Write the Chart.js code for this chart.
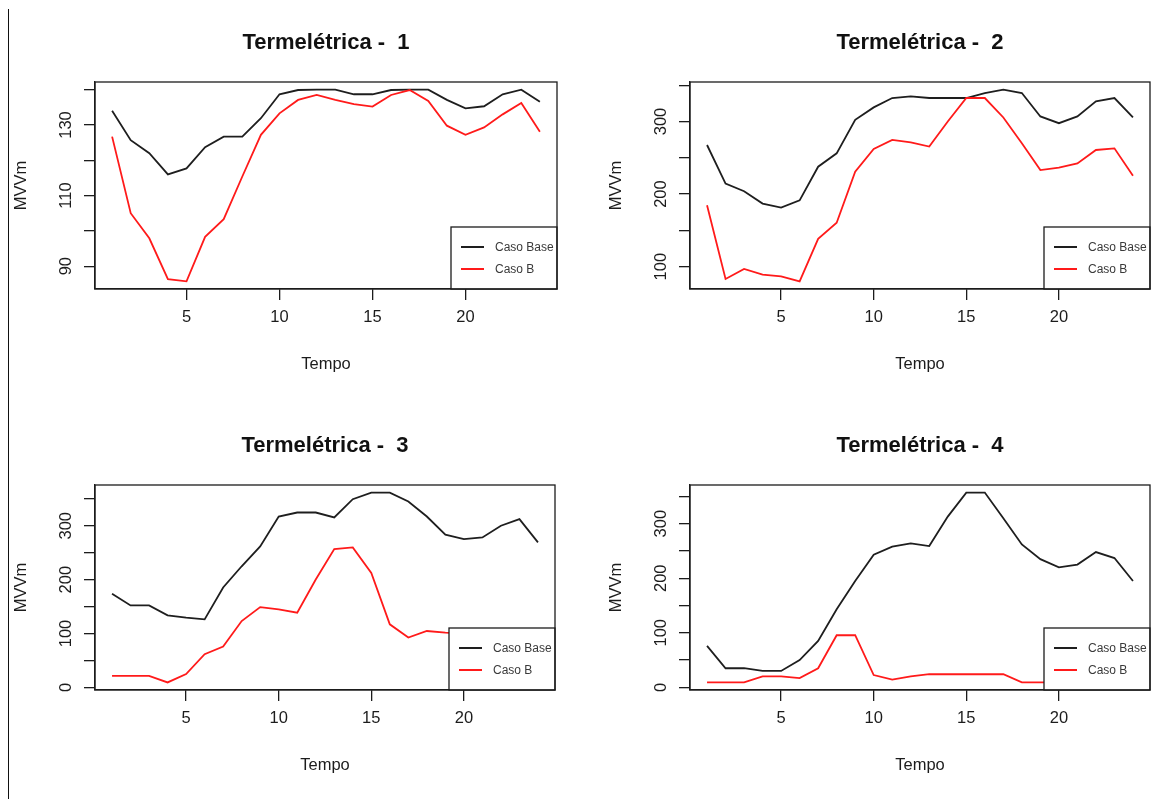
<!DOCTYPE html>
<html>
<head>
<meta charset="utf-8">
<title>Termelétricas - Caso Base x Caso B</title>
<script src="https://cdn.jsdelivr.net/npm/chart.js@4.4.1/dist/chart.umd.min.js"></script>
<style>
  body { margin: 0; background: #fff; width: 1156px; height: 799px; overflow: hidden; position: relative; }
  canvas { position: absolute; }
  #borda { position: absolute; left: 8px; top: 9px; width: 1px; height: 790px; background: #111; }
</style>
</head>
<body>
<div id="borda"></div>
<canvas id="c1" width="600" height="403" style="left:0;top:0"></canvas>
<canvas id="c2" width="561" height="403" style="left:595px;top:0"></canvas>
<canvas id="c3" width="600" height="396" style="left:0;top:403px"></canvas>
<canvas id="c4" width="561" height="396" style="left:595px;top:403px"></canvas>
<script>
// Geração horária (MWm) das quatro termelétricas: Caso Base x Caso B

const horas = [1, 2, 3, 4, 5, 6, 7, 8, 9, 10, 11, 12, 13, 14, 15, 16, 17, 18, 19, 20, 21, 22, 23, 24];
const xTicks = [5, 10, 15, 20];
const legendLabels = ['Caso Base', 'Caso B'];

const termo1Base  = [134.0, 125.7, 122.0, 116.0, 117.7, 123.7, 126.7, 126.7, 131.9, 138.7, 139.9, 140.0,
                     140.0, 138.7, 138.7, 139.9, 140.0, 140.0, 137.1, 134.7, 135.3, 138.7, 140.0, 136.6];
const termo1CasoB = [126.7, 105.0, 97.9, 86.3, 85.7, 98.3, 103.3, 115.4, 127.2, 133.3, 137.1, 138.5,
                     137.1, 135.9, 135.2, 138.5, 139.9, 136.8, 129.8, 127.2, 129.3, 133.0, 136.2, 128.1];

const termo2Base  = [267.6, 214.5, 203.9, 186.9, 181.3, 191.4, 237.7, 256.1, 302.2, 319.4, 332.3, 334.6,
                     332.3, 332.3, 332.3, 339.2, 343.8, 339.2, 306.9, 297.6, 306.9, 327.7, 332.3, 305.5];
const termo2CasoB = [184.5, 83.0, 96.8, 88.9, 86.7, 79.8, 138.4, 160.5, 230.7, 262.0, 274.5, 271.3,
                     265.4, 300.0, 332.3, 332.3, 305.5, 270.0, 233.0, 236.3, 242.2, 260.7, 263.0, 225.2];

const termo3Base  = [173.7, 152.1, 152.1, 133.6, 129.4, 126.2, 185.5, 224.8, 261.7, 317.2, 324.6, 324.6,
                     315.4, 349.3, 361.6, 361.6, 345.0, 317.2, 283.4, 275.4, 278.4, 300.0, 312.4, 269.1];
const termo3CasoB = [21.4, 21.4, 21.4, 9.2, 24.6, 61.6, 75.8, 123.1, 149.0, 144.7, 138.6, 200.2,
                     256.9, 259.9, 212.6, 117.0, 92.4, 104.6, 101.7, 100.0, 99.0, 98.0, 97.0, 96.0];

const termo4Base  = [76.0, 35.0, 35.0, 30.0, 30.0, 50.0, 85.0, 143.0, 195.0, 243.0, 258.0, 264.0,
                     259.0, 313.0, 357.0, 357.0, 310.0, 262.0, 235.0, 220.0, 225.0, 248.0, 237.0, 195.0];
const termo4CasoB = [9.0, 9.0, 9.0, 20.0, 20.0, 17.0, 35.0, 95.5, 95.5, 22.5, 14.0, 20.0,
                     24.0, 24.0, 24.0, 24.0, 24.0, 9.0, 9.0, 9.0, 9.0, 9.0, 9.0, 9.0];

const yTicks1  = [90, 100, 110, 120, 130, 140];
const yLabels1 = [90, 110, 130];
const yTicks2  = [100, 150, 200, 250, 300, 350];
const yLabels2 = [100, 200, 300];
const yTicks34  = [0, 50, 100, 150, 200, 250, 300, 350];
const yLabels34 = [0, 100, 200, 300];

const FONT = "'Liberation Sans', Arial, sans-serif";
const INK = '#1c1c1c';

Chart.defaults.font.family = FONT;

// plot box (canvas coords) of each panel
const boxTop = 82, boxLeft = 95;
const panels = [
  { id: 'c1', title: 'Termelétrica -  1', base: termo1Base, casoB: termo1CasoB, yTicks: yTicks1,  yLabels: yLabels1,  right: 557, bottom: 289 },
  { id: 'c2', title: 'Termelétrica -  2', base: termo2Base, casoB: termo2CasoB, yTicks: yTicks2,  yLabels: yLabels2,  right: 555, bottom: 289 },
  { id: 'c3', title: 'Termelétrica -  3', base: termo3Base, casoB: termo3CasoB, yTicks: yTicks34, yLabels: yLabels34, right: 555, bottom: 287 },
  { id: 'c4', title: 'Termelétrica -  4', base: termo4Base, casoB: termo4CasoB, yTicks: yTicks34, yLabels: yLabels34, right: 555, bottom: 287 }
];

// R style axis range: data range padded by 4% on each side
function rRange(values) {
  const lo = Math.min(...values), hi = Math.max(...values);
  const pad = (hi - lo) * 0.04;
  return { min: lo - pad, max: hi + pad };
}

// frame, rotated y labels, titles and the bottom-right legend
const rPanel = {
  id: 'rPanel',
  afterDatasetsDraw(chart, args, opts) {
    const ctx = chart.ctx, ca = chart.chartArea;
    ctx.save();
    // legend box covers the lines beneath it
    const lw = 106, lh = 62;
    const lx = ca.right - lw, ly = ca.bottom - lh;
    ctx.fillStyle = '#fff';
    ctx.fillRect(lx, ly, lw, lh);
    ctx.strokeStyle = INK;
    ctx.lineWidth = 1.3;
    ctx.strokeRect(lx, ly, lw, lh);
    chart.data.datasets.forEach((ds, i) => {
      const y = ly + 20 + i * 22;
      ctx.strokeStyle = ds.borderColor;
      ctx.lineWidth = 2;
      ctx.beginPath();
      ctx.moveTo(lx + 10, y);
      ctx.lineTo(lx + 33, y);
      ctx.stroke();
      ctx.fillStyle = '#3a3a3a';
      ctx.font = '12px ' + FONT;
      ctx.textAlign = 'left';
      ctx.textBaseline = 'middle';
      ctx.fillText(ds.label, lx + 44, y + 1);
    });
    // plot frame
    ctx.strokeStyle = INK;
    ctx.lineWidth = 1.3;
    ctx.strokeRect(ca.left, ca.top, ca.right - ca.left, ca.bottom - ca.top);
    ctx.restore();
  },
  afterDraw(chart, args, opts) {
    const ctx = chart.ctx, ca = chart.chartArea;
    const yScale = chart.scales.y;
    const cx = (ca.left + ca.right) / 2, cy = (ca.top + ca.bottom) / 2;
    ctx.save();
    ctx.fillStyle = INK;
    ctx.textAlign = 'center';
    ctx.textBaseline = 'middle';

    ctx.font = '16.5px ' + FONT;
    opts.yLabels.forEach(v => {
      ctx.save();
      ctx.translate(ca.left - 29, yScale.getPixelForValue(v));
      ctx.rotate(-Math.PI / 2);
      ctx.fillText(String(v), 0, 0);
      ctx.restore();
    });

    ctx.fillText('Tempo', cx, ca.bottom + 75);
    ctx.save();
    ctx.translate(ca.left - 74, cy);
    ctx.rotate(-Math.PI / 2);
    ctx.fillText('MVVm', 0, 0);
    ctx.restore();

    ctx.font = 'bold 22px ' + FONT;
    ctx.fillStyle = '#111';
    ctx.fillText(opts.title, cx, ca.top - 39);
    ctx.restore();
  }
};

const axisGrid = { drawOnChartArea: false, drawTicks: true, tickLength: 11, color: INK, lineWidth: 1.3 };

function makeChart(p) {
  const canvas = document.getElementById(p.id);
  const W = canvas.width, H = canvas.height;
  const yr = rRange(p.base.concat(p.casoB));
  const xr = rRange(horas);

  return new Chart(canvas, {
    type: 'line',
    data: {
      datasets: [
        {
          label: legendLabels[0],
          data: horas.map((h, i) => ({ x: h, y: p.base[i] })),
          borderColor: '#1e1e1e',
          order: 1
        },
        {
          label: legendLabels[1],
          data: horas.map((h, i) => ({ x: h, y: p.casoB[i] })),
          borderColor: '#ff1a1a',
          order: 0
        }
      ]
    },
    options: {
      responsive: false,
      animation: false,
      layout: { padding: { left: 0, top: boxTop, right: W - p.right, bottom: 0 } },
      elements: {
        point: { radius: 0 },
        line: { borderWidth: 1.8, tension: 0 }
      },
      plugins: {
        legend: { display: false },
        tooltip: { enabled: false },
        rPanel: { title: p.title, yLabels: p.yLabels }
      },
      scales: {
        x: {
          type: 'linear',
          min: xr.min,
          max: xr.max,
          afterBuildTicks: s => { s.ticks = xTicks.map(v => ({ value: v })); },
          afterFit: s => { s.height = H - p.bottom; },
          grid: axisGrid,
          border: { display: true, color: INK, width: 1.3 },
          ticks: {
            autoSkip: false,
            maxRotation: 0,
            padding: 8,
            color: INK,
            font: { size: 16.5 },
            callback: v => String(v)
          }
        },
        y: {
          type: 'linear',
          min: yr.min,
          max: yr.max,
          afterBuildTicks: s => { s.ticks = p.yTicks.map(v => ({ value: v })); },
          afterFit: s => { s.width = boxLeft; },
          grid: axisGrid,
          border: { display: true, color: INK, width: 1.3 },
          ticks: { display: false }
        }
      }
    },
    plugins: [rPanel]
  });
}

panels.forEach(makeChart);
</script>
</body>
</html>
